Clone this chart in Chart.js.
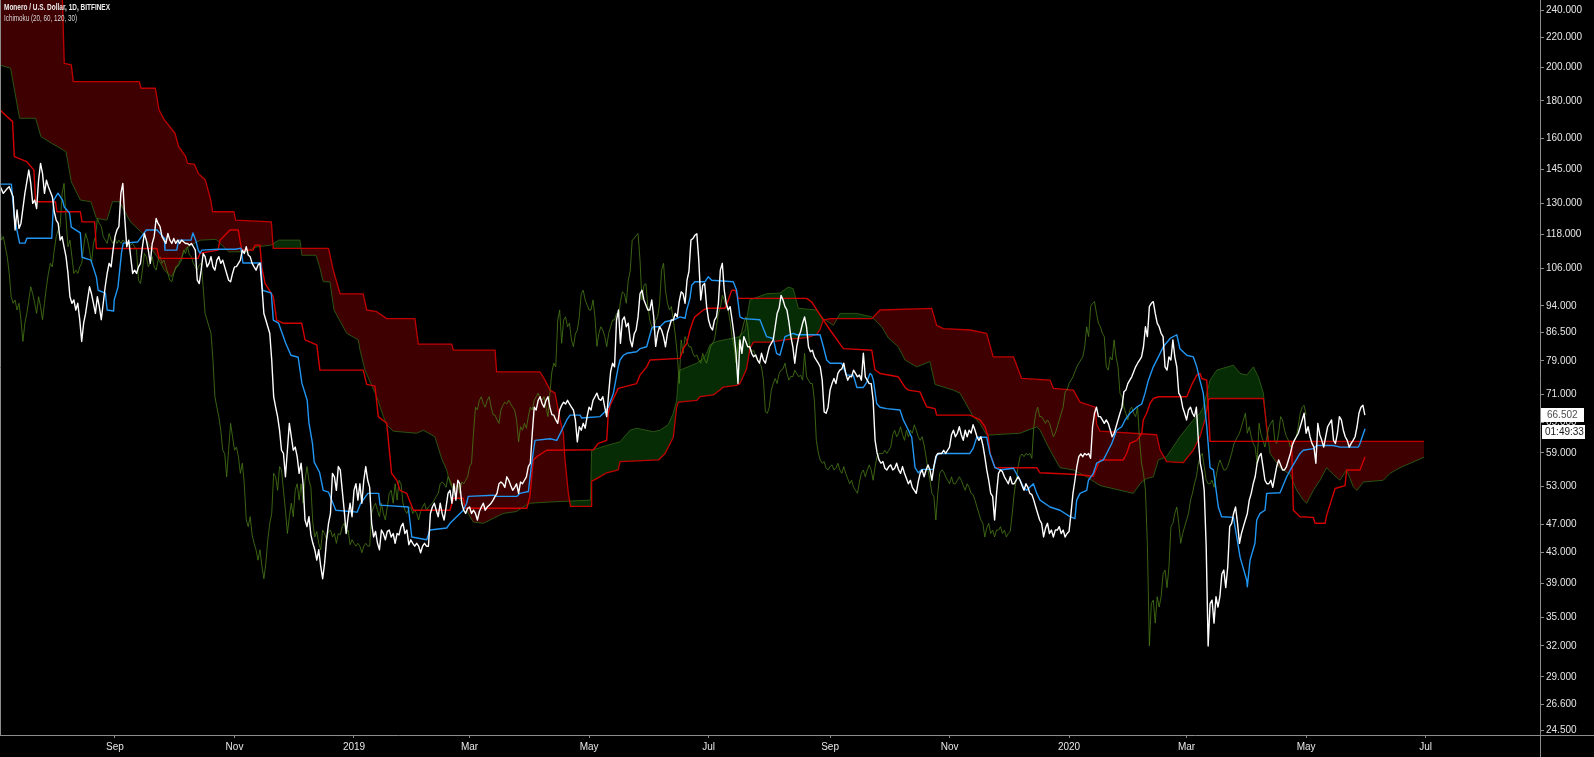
<!DOCTYPE html>
<html>
<head>
<meta charset="utf-8">
<script src="https://cdn.jsdelivr.net/npm/chart.js@4.4.1/dist/chart.umd.min.js"></script>
<style>
html,body{margin:0;padding:0;background:#000;overflow:hidden;}
#wrap{position:relative;width:1594px;height:757px;}
canvas{display:block;}
</style>
</head>
<body>
<div id="wrap"><canvas id="c" width="1594" height="757"></canvas></div>
<script>
// ---- Text ----
const titleText = 'Monero / U.S. Dollar, 1D, BITFINEX';
const indicatorText = 'Ichimoku (20, 60, 120, 30)';
const countdownText = '01:49:33';

// ---- X axis: days since 1 Sep 2018 ----
const monthTickDays = [0, 61, 122, 181, 242, 303, 365, 426, 487, 547, 608, 669];
const monthTickLabels = ['Sep', 'Nov', '2019', 'Mar', 'May', 'Jul', 'Sep', 'Nov', '2020', 'Mar', 'May', 'Jul'];

// ---- Y axis price ticks ----
const priceTicks = [24.5, 26.6, 29, 32, 35, 39, 43, 47, 53, 59, 65, 71, 79, 86.5, 94, 106, 118, 130, 145, 160, 180, 200, 220, 240];

// Lagging span displacement (days)
const lagDays = 30;

// ---- Daily close [day, price] ----
const close = [
[-59,138.0],[-57,134.3],[-55,136.4],[-54,137.2],[-52,132.9],[-51,119.6],[-50,127.4],[-49,120.2],[-48,122.1],[-46,134.3],
[-44,144.6],[-43,138.6],[-42,130.1],[-41,131.5],[-40,128.0],[-39,140.1],[-38,147.7],[-37,143.1],[-36,134.3],[-35,140.0],
[-34,137.2],[-32,132.9],[-31,126.7],[-30,123.4],[-29,122.1],[-28,115.8],[-27,117.1],[-26,113.4],[-25,109.9],[-24,104.2],
[-23,96.8],[-22,94.8],[-21,95.8],[-20,92.8],[-19,94.8],[-18,90.0],[-17,84.0],[-16,89.0],[-15,91.8],[-14,95.8],
[-13,99.9],[-12,97.7],[-11,94.8],[-10,91.8],[-9,96.8],[-8,93.8],[-7,90.0],[-6,94.8],[-5,99.9],[-4,104.2],
[-3,107.6],[-2,106.4],[-1,112.2],[0,117.1],[1,119.6],[2,120.9],[3,134.3],[4,138.6],[5,124.0],[6,113.4],
[7,115.8],[8,109.9],[9,104.2],[10,105.3],[11,104.2],[12,106.4],[13,107.6],[14,113.4],[15,118.3],[16,115.8],
[17,112.2],[18,107.6],[19,114.6],[20,117.1],[21,124.0],[22,122.1],[23,120.9],[24,117.1],[25,115.8],[26,114.6],
[27,118.3],[28,115.8],[29,114.6],[30,116.4],[31,114.6],[32,115.8],[33,114.6],[34,115.8],[35,115.2],[36,114.6],
[37,114.6],[38,114.0],[39,114.6],[40,113.4],[41,112.2],[42,102.0],[43,100.9],[44,105.3],[45,111.0],[46,109.9],
[47,106.4],[48,107.6],[49,109.9],[50,106.4],[51,105.3],[52,108.7],[53,109.9],[54,107.6],[55,108.7],[56,106.4],
[57,104.2],[58,102.0],[59,101.5],[60,104.2],[61,106.4],[62,106.5],[63,107.6],[64,108.7],[65,112.2],[66,111.0],
[67,113.4],[68,110.5],[69,109.9],[70,107.6],[71,106.4],[72,105.3],[73,107.0],[74,107.6],[75,99.9],[76,91.8],
[77,89.9],[78,88.0],[79,86.2],[80,79.2],[81,70.5],[82,68.2],[83,66.2],[84,63.4],[85,59.5],[86,58.9],
[87,54.7],[88,59.5],[89,64.8],[90,62.1],[91,59.5],[92,60.1],[93,58.3],[94,55.3],[95,57.1],[96,53.5],
[97,47.7],[98,46.7],[99,48.2],[100,45.5],[101,44.3],[102,43.4],[103,42.0],[104,43.4],[105,41.2],[106,39.6],
[107,41.6],[108,44.8],[109,47.2],[110,48.7],[111,55.3],[112,54.7],[113,52.4],[114,56.5],[115,55.9],[116,52.4],
[117,49.2],[118,45.7],[119,48.2],[120,50.3],[121,48.2],[122,52.4],[123,53.5],[124,50.8],[125,53.5],[126,50.3],
[127,54.1],[128,56.5],[129,54.1],[130,52.9],[131,47.2],[132,45.2],[133,46.0],[134,44.3],[135,43.4],[136,46.2],
[137,45.7],[138,44.8],[139,46.0],[140,46.2],[141,45.2],[142,45.7],[143,44.3],[144,45.7],[145,45.5],[146,46.7],
[147,47.2],[148,45.7],[149,46.2],[150,44.1],[151,44.8],[152,44.3],[153,43.9],[154,44.3],[155,43.9],[156,43.0],
[157,43.9],[158,44.3],[159,43.9],[160,43.9],[161,48.7],[162,49.7],[163,50.3],[164,49.2],[165,48.2],[166,50.3],
[167,48.7],[168,47.7],[169,49.7],[170,51.9],[171,52.4],[172,50.3],[173,53.5],[174,50.8],[175,54.1],[176,53.5],
[177,50.3],[178,49.2],[179,48.7],[180,49.5],[181,49.7],[182,48.7],[183,49.2],[184,48.7],[185,47.7],[186,49.0],
[187,49.7],[188,50.3],[189,49.2],[190,49.7],[191,50.0],[192,50.3],[193,50.8],[194,51.4],[195,51.9],[196,53.5],
[197,53.8],[198,53.5],[199,52.9],[200,54.7],[201,54.1],[202,53.2],[203,52.4],[204,52.9],[205,53.5],[206,51.9],
[207,53.8],[208,53.5],[209,54.1],[210,54.7],[211,56.5],[212,57.1],[213,62.8],[214,68.2],[215,67.6],[216,69.7],
[217,70.5],[218,69.0],[219,68.2],[220,69.7],[221,70.5],[222,68.2],[223,66.6],[224,66.5],[225,65.5],[226,64.8],
[227,67.6],[228,68.6],[229,69.3],[230,68.9],[231,69.7],[232,68.9],[233,68.2],[234,67.6],[235,65.5],[236,61.1],
[237,64.1],[238,63.4],[239,64.8],[240,63.8],[241,66.2],[242,68.2],[243,67.6],[244,69.7],[245,70.5],[246,71.3],
[247,70.0],[248,69.7],[249,70.5],[250,68.2],[251,66.2],[252,71.3],[253,76.3],[254,78.4],[255,77.5],[256,89.9],
[257,92.8],[258,83.5],[259,89.9],[260,90.8],[261,88.0],[262,89.0],[263,84.4],[264,82.6],[265,86.0],[266,87.1],
[267,90.8],[268,97.7],[269,98.8],[270,95.8],[271,94.3],[272,92.8],[273,92.8],[274,95.8],[275,90.8],[276,82.7],
[277,86.2],[278,88.0],[279,87.1],[280,85.3],[281,82.6],[282,86.2],[283,88.0],[284,89.9],[285,89.9],[286,91.8],
[287,90.8],[288,95.3],[289,98.3],[290,97.7],[291,94.8],[292,102.0],[293,105.0],[294,115.8],[295,116.4],[296,117.6],
[297,118.2],[298,108.7],[299,95.8],[300,100.4],[301,100.9],[302,93.8],[303,89.9],[304,88.0],[305,87.1],[306,89.9],
[307,90.8],[308,94.8],[309,105.3],[310,107.6],[311,98.8],[312,94.8],[313,92.8],[314,93.8],[315,89.9],[316,85.8],
[317,80.9],[318,73.5],[319,84.4],[320,80.9],[321,85.3],[322,84.0],[323,82.6],[324,82.6],[325,80.9],[326,80.0],
[327,80.5],[328,79.2],[329,78.4],[330,80.9],[331,79.2],[332,78.4],[333,80.5],[334,82.6],[335,83.5],[336,84.4],
[337,88.0],[338,91.8],[339,93.3],[340,97.2],[341,95.8],[342,93.8],[343,92.8],[344,89.4],[345,85.3],[346,82.6],
[347,78.4],[348,82.6],[349,85.3],[350,86.7],[351,89.0],[352,90.8],[353,88.0],[354,82.6],[355,81.3],[356,81.7],
[357,80.0],[358,79.2],[359,78.4],[360,77.5],[361,74.3],[362,67.2],[363,66.9],[364,68.2],[365,72.0],[366,73.5],
[367,74.7],[368,73.5],[369,75.9],[370,76.7],[371,77.0],[372,78.4],[373,75.9],[374,74.3],[375,75.2],[376,75.1],
[377,76.7],[378,75.9],[379,75.1],[380,75.5],[381,74.3],[382,80.9],[383,75.1],[384,74.3],[385,73.5],[386,73.5],
[387,69.7],[388,61.4],[389,59.0],[390,57.7],[391,57.1],[392,57.4],[393,56.2],[394,55.9],[395,56.5],[396,56.8],
[397,55.9],[398,56.2],[399,57.1],[400,55.9],[401,55.3],[402,56.5],[403,55.3],[404,54.4],[405,53.5],[406,54.1],
[407,52.9],[408,52.4],[409,51.9],[410,53.8],[411,55.3],[412,55.9],[413,54.7],[414,55.9],[415,56.8],[416,55.9],
[417,54.1],[418,56.5],[419,58.3],[420,58.9],[421,58.9],[422,58.9],[423,59.5],[424,58.9],[425,59.5],[426,60.1],
[427,62.5],[428,63.4],[429,62.1],[430,62.8],[431,64.1],[432,62.5],[433,61.4],[434,63.4],[435,62.1],[436,63.4],
[437,62.8],[438,64.5],[439,63.4],[440,62.1],[441,61.4],[442,62.1],[443,60.5],[444,58.3],[445,55.9],[446,54.1],
[447,51.9],[448,51.4],[449,47.7],[450,51.9],[451,55.3],[452,55.9],[453,55.6],[454,54.7],[455,54.1],[456,53.5],
[457,54.7],[458,53.5],[459,53.5],[460,54.1],[461,54.7],[462,54.1],[463,53.2],[464,52.4],[465,53.5],[466,52.9],
[467,51.9],[468,51.7],[469,50.8],[470,49.7],[471,48.7],[472,47.7],[473,47.2],[474,45.2],[475,46.5],[476,47.2],
[477,45.7],[478,46.2],[479,45.2],[480,46.2],[481,46.2],[482,46.7],[483,45.7],[484,46.2],[485,45.2],[486,45.7],
[487,46.0],[488,48.7],[489,51.9],[490,54.1],[491,56.5],[492,58.3],[493,58.8],[494,58.3],[495,58.9],[496,58.6],
[497,58.9],[498,58.0],[499,64.1],[500,66.9],[501,68.2],[502,66.2],[503,66.2],[504,65.5],[505,64.8],[506,65.5],
[507,64.8],[508,63.5],[509,62.1],[510,62.8],[511,64.1],[512,65.5],[513,66.9],[514,68.2],[515,71.6],[516,72.0],
[517,73.5],[518,74.3],[519,75.1],[520,76.3],[521,77.5],[522,78.4],[523,79.2],[524,80.0],[525,82.6],[526,88.0],
[527,85.3],[528,93.8],[529,94.8],[530,95.3],[531,91.8],[532,89.0],[533,88.0],[534,86.2],[535,85.3],[536,77.5],
[537,76.7],[538,80.0],[539,79.2],[540,84.4],[541,80.0],[542,77.5],[543,71.3],[544,70.5],[545,68.2],[546,66.9],
[547,65.5],[548,67.6],[549,68.2],[550,66.9],[551,66.2],[552,68.2],[553,61.4],[554,57.1],[555,55.3],[556,52.4],
[557,43.9],[558,32.0],[559,36.6],[560,37.0],[561,34.4],[562,37.4],[563,36.2],[564,37.4],[565,40.2],[566,40.7],
[567,38.5],[568,41.1],[569,46.7],[570,47.2],[571,48.7],[572,49.7],[573,47.2],[574,44.3],[575,45.7],[576,46.7],
[577,47.7],[578,48.7],[579,50.8],[580,51.9],[581,53.5],[582,54.7],[583,57.1],[584,58.3],[585,58.9],[586,56.5],
[587,54.1],[588,53.5],[589,53.5],[590,54.1],[591,52.9],[592,54.7],[593,56.5],[594,57.7],[595,56.8],[596,55.9],
[597,55.9],[598,56.5],[599,57.7],[600,58.9],[601,60.5],[602,61.4],[603,62.1],[604,62.8],[605,64.1],[606,65.5],
[607,66.9],[608,62.8],[609,64.1],[610,62.1],[611,60.8],[612,60.1],[613,57.1],[614,64.8],[615,62.5],[616,61.4],
[617,60.1],[618,62.1],[619,64.1],[620,64.8],[621,65.5],[622,61.4],[623,60.8],[624,62.8],[625,66.2],[626,65.5],
[627,63.4],[628,62.1],[629,61.4],[630,60.1],[631,60.8],[632,61.4],[633,62.1],[634,64.1],[635,66.9],[636,68.2],
[637,68.6],[638,66.502]
];

// ---- Conversion line (Tenkan, 20) [day, price] ----
const tenkan = [
[-58.7,138.3],[-52.9,138.3],[-51.4,124.6],[-48.7,114.7],[-45.9,114.7],[-45.0,116.5],[-32.3,116.5],[-31.3,131.5],[-29.1,134.4],[-26.8,131.5],
[-25.9,128.6],[-23.2,126.2],[-22.3,120.7],[-17.7,118.5],[-16.8,109.7],[-12.3,108.7],[-9.5,103.0],[-8.6,98.8],[-4.9,97.9],[-4.0,92.8],
[-0.7,92.5],[-0.4,95.8],[1.5,99.7],[3.3,111.1],[4.2,114.7],[11.5,115.1],[16.0,119.6],[21.5,119.6],[25.2,116.5],[25.5,112.2],
[31.5,112.2],[32.5,115.8],[38.8,115.8],[39.8,118.5],[41.2,115.8],[42.5,112.2],[43.4,111.1],[44.3,112.2],[52.5,112.5],[61.6,112.5],
[64.3,112.9],[65.3,107.7],[74.4,107.7],[75.3,98.8],[79.8,97.9],[80.8,89.9],[83.5,89.0],[85.3,86.3],[87.1,83.6],[89.8,80.4],
[93.5,79.9],[95.4,73.6],[98.1,69.7],[99.0,64.9],[100.8,60.8],[101.7,57.3],[104.4,55.5],[106.3,52.4],[109.0,52.1],[112.7,49.2],
[123.6,48.9],[125.4,50.3],[129.1,51.9],[134.6,51.9],[135.3,50.0],[149.7,49.7],[151.5,45.2],[159.1,44.8],[160.8,46.2],[169.3,46.5],
[171.0,47.2],[177.8,49.2],[179.5,50.3],[180.3,51.4],[193.1,51.6],[194.8,51.4],[205.1,51.4],[206.7,51.9],[211.0,52.2],[212.7,57.1],
[214.4,61.4],[222.1,61.7],[225.5,61.4],[227.2,62.7],[230.6,65.5],[232.3,66.5],[237.4,66.5],[238.2,65.9],[247.6,66.2],[250.1,67.2],
[251.8,68.2],[254.4,71.3],[256.9,77.5],[257.8,79.2],[259.5,80.4],[261.2,80.9],[266.3,81.3],[268.0,82.1],[271.4,82.6],[274.0,87.6],
[274.8,88.0],[278.2,88.0],[280.8,89.4],[285.0,89.9],[288.4,90.8],[291.0,90.4],[291.8,92.8],[293.5,96.3],[294.4,100.4],[296.0,101.5],
[301.2,101.5],[302.8,103.1],[304.6,102.0],[315.6,101.5],[317.3,98.8],[319.0,90.8],[320.7,90.3],[329.2,90.0],[330.9,87.6],[332.6,85.3],
[336.0,84.8],[337.7,80.9],[339.4,80.4],[342.0,85.3],[346.2,86.2],[348.0,85.8],[359.9,85.8],[361.6,82.6],[363.3,79.2],[365.0,78.4],
[370.9,78.4],[373.5,75.5],[376.9,75.5],[378.7,72.6],[382.0,72.6],[383.7,73.8],[385.4,75.9],[386.3,75.5],[387.1,74.3],[388.8,69.0],
[390.5,68.2],[393.9,67.9],[400.7,67.6],[402.4,65.5],[405.0,63.4],[406.7,62.0],[408.4,56.3],[410.1,55.4],[411.8,56.0],[417.7,56.0],
[419.5,58.6],[421.1,58.9],[436.4,58.9],[438.1,59.9],[439.9,62.0],[445.0,62.0],[446.6,58.9],[449.2,56.3],[451.8,55.9],[458.6,56.2],
[462.0,54.1],[463.7,52.9],[465.4,52.4],[468.8,53.5],[470.5,51.9],[472.2,50.8],[477.3,49.7],[482.4,49.2],[487.5,48.2],[490.0,47.9],
[490.9,50.8],[492.6,51.9],[496.0,52.4],[496.9,54.1],[499.4,55.3],[501.1,57.1],[504.5,57.7],[506.2,58.9],[508.8,60.8],[511.3,63.4],
[513.9,64.1],[515.6,65.5],[518.1,66.9],[521.5,68.2],[524.1,68.9],[525.8,71.3],[527.5,74.3],[530.0,77.5],[532.6,80.0],[535.1,82.6],
[538.6,84.8],[542.0,85.8],[543.6,82.1],[547.1,80.4],[550.4,80.0],[552.2,77.5],[553.8,74.3],[555.5,71.3],[557.3,64.1],[559.0,56.3],
[560.7,55.9],[563.2,49.7],[564.9,48.2],[570.9,48.1],[572.6,45.2],[574.3,42.4],[577.7,39.4],[578.0,38.6],[579.4,42.0],[581.9,44.3],
[582.8,47.7],[584.5,48.7],[587.0,49.2],[587.9,51.9],[594.7,52.0],[598.1,54.7],[600.6,56.3],[604.9,58.9],[606.6,59.5],[611.7,59.8],
[613.4,60.4],[621.9,60.4],[625.3,60.1],[634.7,60.1],[635.5,60.8],[638.1,63.7]
];

// ---- Base line (Kijun, 60) [day, price] ----
const kijun = [
[-58.7,174.9],[-52.3,168.6],[-51.4,150.9],[-45.0,148.5],[-41.4,144.6],[-40.5,130.8],[-30.4,130.8],[-29.6,126.7],[-17.7,126.7],[-16.8,122.7],
[-10.4,122.7],[-9.5,112.8],[21.4,112.8],[22.5,109.3],[42.5,109.3],[43.4,111.1],[52.6,112.2],[53.6,115.8],[58.7,119.6],[62.9,119.6],
[63.8,115.8],[64.7,112.2],[70.4,112.2],[71.5,114.0],[74.0,114.0],[74.9,106.3],[76.6,101.0],[80.8,96.8],[82.5,89.9],[85.9,89.0],
[95.3,89.0],[97.0,84.4],[103.0,83.1],[104.6,76.7],[126.7,76.7],[128.5,73.3],[132.7,72.9],[134.4,66.2],[138.7,64.8],[141.2,55.3],
[143.8,54.1],[145.5,52.4],[148.9,51.9],[152.3,49.2],[171.0,49.2],[172.7,51.1],[177.8,51.1],[178.7,49.5],[210.2,49.5],[211.8,51.4],
[213.5,57.7],[215.3,58.3],[220.4,59.5],[244.2,59.6],[246.7,60.8],[251.0,61.4],[251.8,66.9],[252.7,68.6],[256.9,72.4],[266.3,73.5],
[268.0,75.5],[271.4,77.5],[273.1,79.2],[288.4,79.6],[290.1,82.1],[291.8,83.4],[293.5,87.1],[295.2,89.9],[296.0,90.8],[300.3,92.8],
[302.0,93.3],[311.4,93.3],[313.1,95.8],[314.8,98.8],[316.5,98.8],[318.2,96.3],[353.1,96.3],[355.6,95.2],[360.9,90.5],[365.0,87.1],
[371.8,82.1],[386.3,81.7],[387.9,76.8],[390.5,75.9],[399.8,75.1],[403.3,72.6],[405.0,72.0],[410.9,71.6],[414.3,68.3],[418.6,67.9],
[419.4,66.5],[436.4,66.5],[441.6,65.5],[444.1,64.1],[445.8,62.0],[446.7,58.9],[449.2,56.3],[470.5,56.3],[472.2,55.4],[490.9,55.1],
[499.4,54.8],[501.1,56.3],[502.8,57.7],[514.7,57.7],[516.4,58.9],[518.1,60.8],[521.5,61.4],[524.1,62.7],[524.9,65.5],[526.6,66.9],
[528.3,69.0],[530.0,70.1],[532.6,70.5],[547.1,70.5],[549.7,73.3],[552.2,75.5],[553.9,75.9],[554.8,74.7],[557.3,74.3],[559.0,61.2],
[600.6,61.2],[601.5,49.2],[604.9,48.2],[611.7,48.1],[612.6,47.2],[617.7,47.2],[618.5,48.4],[622.8,52.7],[627.9,53.2],[628.7,55.9],
[635.5,55.9],[638.1,58.3]
];

// ---- Leading span A (plotted 30 days ahead) [day, price] ----
const spanA = [
[-58.7,201.7],[-53.3,199.7],[-48.7,170.4],[-40.5,170.4],[-37.8,160.8],[-32.3,157.4],[-25.0,153.3],[-22.3,139.3],[-17.7,131.5],[-12.3,130.8],
[-9.5,124.1],[-4.1,123.4],[-1.3,130.8],[2.3,130.8],[7.9,122.7],[14.2,118.3],[17.9,113.4],[21.4,109.9],[25.2,105.3],[28.8,103.1],
[32.5,107.6],[36.1,112.8],[43.4,115.8],[51.6,116.1],[58.0,111.6],[67.1,111.6],[72.5,113.4],[79.8,114.0],[83.5,115.8],[94.4,115.8],
[95.4,110.4],[102.6,110.4],[104.4,106.5],[106.3,101.5],[109.7,101.5],[111.8,92.8],[118.3,86.2],[124.2,84.4],[125.1,81.7],[127.6,76.7],
[133.6,70.5],[137.0,66.2],[138.7,64.5],[142.1,63.2],[154.0,62.8],[157.4,63.4],[163.3,62.1],[166.8,57.9],[169.3,55.9],[171.0,53.6],
[174.4,51.4],[177.8,50.3],[181.2,48.2],[182.9,47.4],[188.0,47.2],[191.4,47.7],[198.2,48.7],[205.0,49.0],[208.4,49.7],[211.8,50.3],
[222.1,50.5],[242.7,50.8],[243.3,59.5],[251.0,60.4],[257.8,61.1],[262.9,63.4],[266.3,63.8],[274.8,63.1],[278.2,63.4],[282.4,64.5],
[285.0,66.9],[286.7,69.7],[287.6,75.1],[288.4,76.7],[297.0,78.4],[300.3,79.6],[302.0,80.9],[303.7,83.1],[307.1,84.0],[315.6,84.9],
[319.0,85.3],[321.6,87.1],[324.1,95.8],[332.6,97.7],[339.4,97.9],[343.7,99.8],[346.2,99.3],[348.8,93.3],[358.2,92.8],[361.6,90.3],
[366.7,88.4],[370.1,91.8],[378.6,91.8],[386.3,90.8],[391.4,88.0],[394.8,84.9],[399.8,82.6],[403.3,79.2],[409.2,77.5],[416.0,78.8],
[418.6,73.3],[427.9,72.0],[431.3,71.3],[438.1,66.2],[441.5,64.8],[445.0,62.4],[462.0,62.8],[470.5,64.1],[472.2,63.4],[477.3,59.5],
[482.4,56.3],[489.2,55.9],[492.6,55.3],[496.0,54.7],[502.8,53.2],[519.8,51.9],[523.2,53.5],[526.6,54.4],[530.0,54.7],[532.6,57.7],
[536.8,58.3],[543.6,62.1],[550.4,65.5],[553.8,66.9],[555.5,68.2],[559.0,74.3],[562.4,76.7],[570.9,77.9],[574.3,75.9],[577.7,75.5],
[581.1,77.5],[583.6,75.1],[586.2,71.3],[587.9,64.1],[589.6,58.9],[594.7,56.3],[599.8,55.1],[603.2,52.4],[606.6,50.8],[608.3,50.3],
[611.7,52.4],[615.1,54.1],[618.5,56.3],[621.9,55.1],[625.3,54.1],[628.7,55.9],[632.1,53.0],[633.9,52.4],[637.2,53.8],[647.4,54.1],
[650.8,55.3],[655.9,56.3],[668.2,58.2]
];

// ---- Leading span B (plotted 30 days ahead) [day, price] ----
const spanB = [
[-58.7,262.0],[-27.1,262.0],[-25.9,202.8],[-22.3,201.8],[-21.3,191.4],[12.4,191.4],[13.3,187.4],[20.6,187.4],[22.5,174.9],[25.2,169.5],
[30.6,162.5],[32.5,155.7],[36.1,150.9],[37.0,147.7],[40.6,147.2],[42.5,143.1],[46.1,140.1],[48.9,131.5],[49.8,126.7],[60.7,126.7],
[61.6,123.4],[79.8,122.7],[80.8,112.8],[109.0,112.8],[111.4,105.3],[114.9,97.7],[126.7,97.7],[128.5,92.8],[133.6,92.3],[138.7,90.3],
[153.1,90.3],[154.8,83.3],[171.9,83.3],[172.7,81.7],[194.0,81.7],[194.8,76.3],[216.9,76.3],[219.5,74.3],[222.1,72.0],[224.6,71.3],
[227.2,65.5],[228.9,62.7],[229.7,57.7],[231.4,52.0],[232.5,49.8],[243.0,49.8],[243.3,53.9],[247.0,54.6],[251.0,55.4],[256.9,55.9],
[257.8,57.4],[277.4,57.7],[280.8,58.9],
[285.0,62.0],[286.7,68.2],[287.6,69.3],[297.0,69.7],[298.6,70.5],[305.4,70.9],[308.8,72.0],[310.5,72.7],[317.3,73.1],[319.0,73.5],
[322.4,77.0],[324.1,82.1],[325.8,83.8],[334.3,83.8],[344.6,84.6],[353.1,85.0],[358.2,85.9],[359.9,87.3],[361.6,89.9],[365.0,90.3],
[386.3,90.3],[390.5,92.8],[416.9,93.3],[419.4,88.4],[422.8,87.5],[436.4,87.1],[444.9,86.2],[448.3,80.0],[458.6,80.0],[462.8,74.7],
[477.3,74.3],[479.0,72.4],[489.2,72.0],[492.6,69.3],[500.3,68.2],[501.1,64.6],[502.8,63.2],[531.7,62.5],[533.4,59.6],[536.8,57.4],
[545.3,57.2],[550.4,59.5],[553.8,62.1],[556.4,65.5],[558.1,69.7],[559.0,70.1],[586.2,70.1],[588.7,61.2],[668.2,61.2]
];

// ---- Style ----
const FONT = '"Liberation Sans", Arial, sans-serif';
const colors = {
  price: '#ffffff',
  tenkan: '#2196f3',
  kijun: '#d30000',
  spanA: '#2a5412',
  spanB: '#c00000',
  chikou: 'rgba(72,122,24,0.8)',
  cloudUp: 'rgba(6,44,6,1)',
  cloudDown: 'rgba(62,0,0,1)',
  axis: '#8c8c8c',
  text: '#e6e6e6'
};

const toXY = arr => arr.map(p => ({x: p[0], y: p[1]}));
const chikouData = close.map(p => ({x: p[0] - lagDays, y: p[1]}));

const overlay = {
  id: 'overlay',
  afterDraw(chart) {
    const ctx = chart.ctx, ca = chart.chartArea, ys = chart.scales.y;
    ctx.save();
    ctx.strokeStyle = colors.axis; ctx.lineWidth = 1;
    ctx.beginPath();
    ctx.moveTo(Math.round(ca.right) + 0.5, 0); ctx.lineTo(Math.round(ca.right) + 0.5, chart.height);
    ctx.moveTo(0, Math.round(ca.bottom) + 0.5); ctx.lineTo(chart.width, Math.round(ca.bottom) + 0.5);
    ctx.moveTo(0.5, 0); ctx.lineTo(0.5, ca.bottom);
    ctx.stroke();
    // Title
    ctx.textAlign = 'left'; ctx.textBaseline = 'middle';
    ctx.fillStyle = '#eeeeee';
    ctx.font = 'bold 9px ' + FONT;
    ctx.fillText(titleText, 4, 8, 106);
    ctx.fillStyle = '#d8d8d8';
    ctx.font = '9px ' + FONT;
    ctx.fillText(indicatorText, 4, 19, 73);
    // Last price and countdown labels
    const last = close[close.length - 1][1];
    const py = Math.round(ys.getPixelForValue(last));
    const bx = Math.round(ca.right) + 1;
    ctx.fillStyle = '#ffffff';
    ctx.fillRect(bx, py - 7, 43, 14);
    ctx.fillRect(bx + 1, py + 10, 43, 14);
    ctx.font = '10px ' + FONT;
    ctx.fillStyle = '#4d4d4d';
    ctx.fillText(last.toFixed(3), bx + 6, py);
    ctx.fillStyle = '#1a1a1a';
    ctx.fillText(countdownText, bx + 4, py + 17);
    ctx.restore();
  }
};

Chart.defaults.font.family = FONT;

new Chart(document.getElementById('c'), {
  type: 'line',
  data: {
    datasets: [
      { label: 'Lead 1', data: toXY(spanA), borderColor: colors.spanA, borderWidth: 1,
        fill: { target: 1, above: colors.cloudUp, below: colors.cloudDown }, order: 6 },
      { label: 'Lead 2', data: toXY(spanB), borderColor: colors.spanB, borderWidth: 1.3, fill: false, order: 5 },
      { label: 'Lagging Span', data: chikouData, borderColor: colors.chikou, borderWidth: 1, fill: false, order: 4 },
      { label: 'Base Line', data: toXY(kijun), borderColor: colors.kijun, borderWidth: 1.4, fill: false, order: 3 },
      { label: 'Conversion Line', data: toXY(tenkan), borderColor: colors.tenkan, borderWidth: 1.4, fill: false, order: 2 },
      { label: 'XMRUSD', data: toXY(close), borderColor: colors.price, borderWidth: 1.4, fill: false, order: 1 }
    ]
  },
  options: {
    responsive: false,
    animation: false,
    layout: { padding: 0 },
    elements: { point: { radius: 0, hoverRadius: 0 }, line: { tension: 0, borderJoinStyle: 'round' } },
    plugins: { legend: { display: false }, tooltip: { enabled: false } },
    events: [],
    scales: {
      x: {
        type: 'linear', position: 'bottom', min: -58.7, max: 727.4,
        afterBuildTicks: s => { s.ticks = monthTickDays.map(v => ({ value: v })); },
        afterFit: s => { s.height = 22; s.paddingLeft = 0; s.paddingRight = 0; },
        ticks: {
          autoSkip: false, maxRotation: 0, minRotation: 0, padding: 3, color: colors.text,
          font: { size: 10, family: FONT },
          callback: v => { const i = monthTickDays.indexOf(v); return i >= 0 ? monthTickLabels[i] : ''; }
        },
        grid: { drawOnChartArea: false, drawTicks: true, tickLength: 3, color: colors.axis },
        border: { display: false }
      },
      y: {
        type: 'logarithmic', position: 'right', min: 24.13, max: 247.9,
        afterBuildTicks: s => { s.ticks = priceTicks.map(v => ({ value: v })); },
        afterFit: s => { s.width = 54; s.paddingTop = 0; s.paddingBottom = 0; },
        ticks: {
          autoSkip: false, padding: 2, color: colors.text,
          font: { size: 10, family: FONT },
          callback: v => Number(v).toFixed(3)
        },
        grid: { drawOnChartArea: false, drawTicks: true, tickLength: 4, color: colors.axis },
        border: { display: false }
      }
    }
  },
  plugins: [overlay]
});
</script>
</body>
</html>
